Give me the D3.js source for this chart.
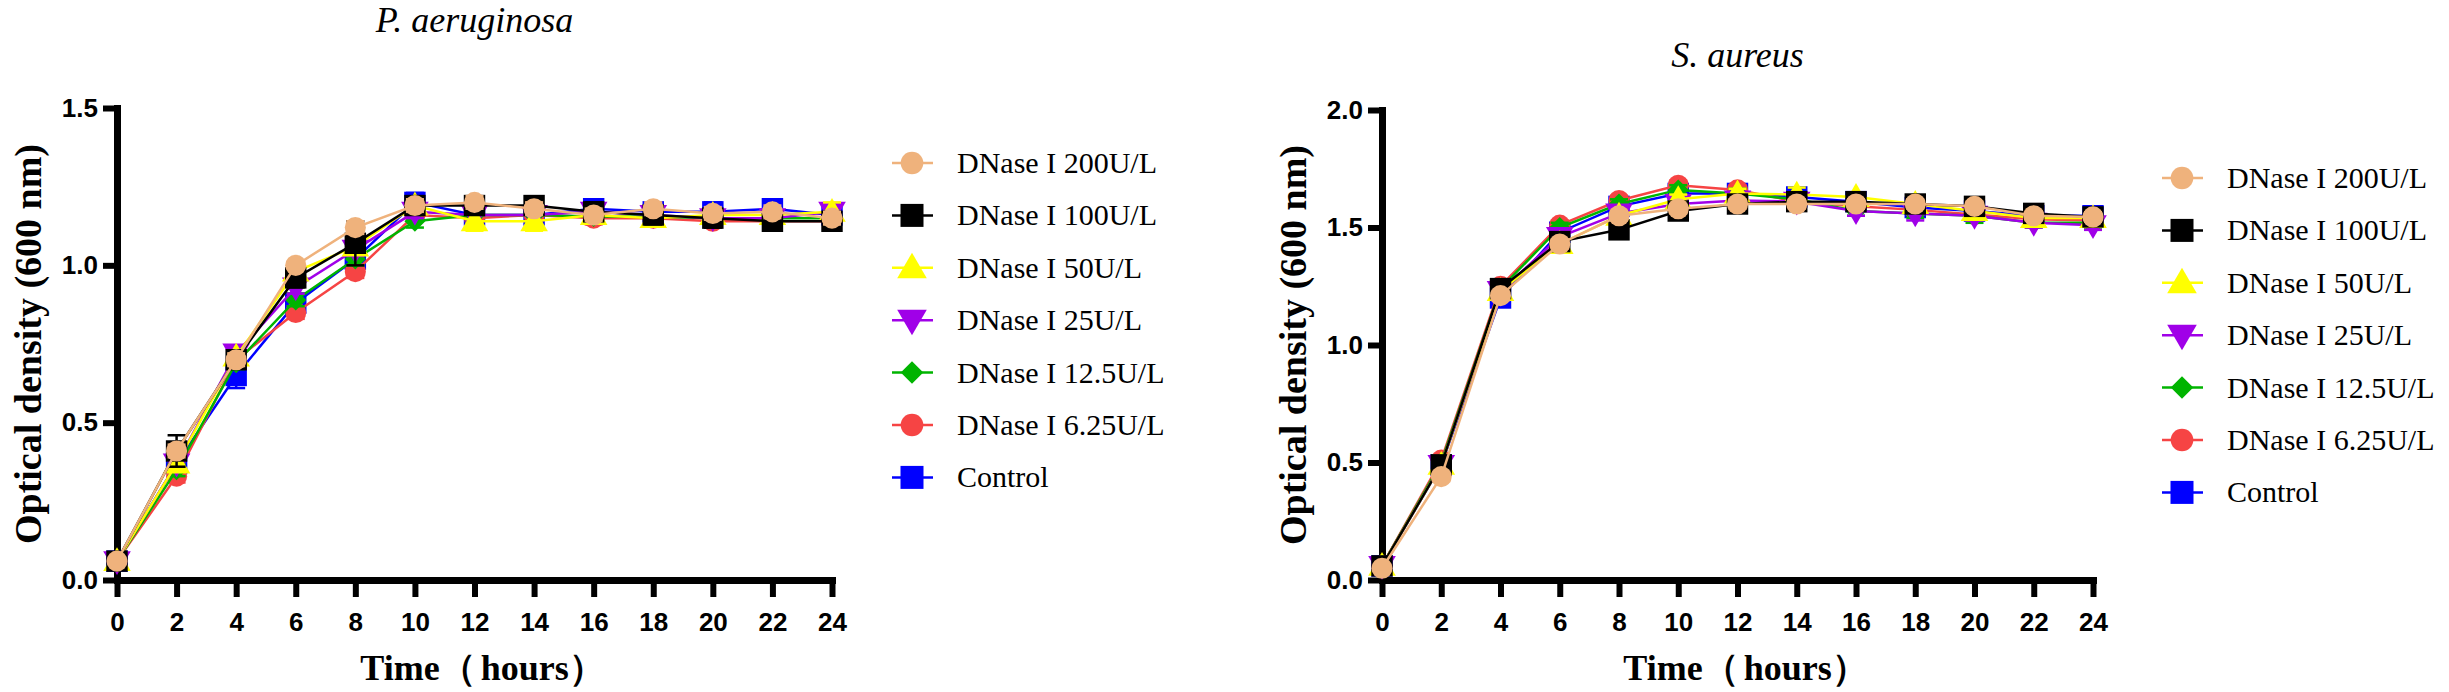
<!DOCTYPE html>
<html>
<head>
<meta charset="utf-8">
<script src="https://cdn.jsdelivr.net/npm/d3@7"></script>
<style>
  html, body { margin: 0; padding: 0; background: #fff; }
  svg { display: block; }
</style>
</head>
<body>
<div id="main"></div>
<script>
// time points (hours)
const hours = [0, 2, 4, 6, 8, 10, 12, 14, 16, 18, 20, 22, 24];
const xTicks = [0, 2, 4, 6, 8, 10, 12, 14, 16, 18, 20, 22, 24];

// legend order
const seriesNames = ['DNase I 200U/L', 'DNase I 100U/L', 'DNase I 50U/L', 'DNase I 25U/L',
  'DNase I 12.5U/L', 'DNase I 6.25U/L', 'Control'];
const seriesColors = ['#EFB27C', '#000000', '#FFFF00', '#A000E8', '#00B400', '#F64444', '#0000FF'];
const seriesShapes = ['circle', 'square', 'triangle', 'triangleDown', 'diamond', 'circle', 'square'];

// P. aeruginosa OD600
const pa200  = [0.06, 0.41, 0.70, 1.00, 1.12, 1.19, 1.20, 1.18, 1.16, 1.18, 1.165, 1.17, 1.15];
const pa100  = [0.06, 0.41, 0.70, 0.96, 1.07, 1.19, 1.19, 1.19, 1.17, 1.16, 1.15, 1.14, 1.14];
const pa50   = [0.06, 0.37, 0.71, 0.98, 1.06, 1.19, 1.14, 1.14, 1.16, 1.15, 1.16, 1.16, 1.17];
const pa25   = [0.06, 0.37, 0.72, 0.93, 1.05, 1.17, 1.16, 1.16, 1.17, 1.16, 1.15, 1.15, 1.17];
const pa12   = [0.06, 0.35, 0.69, 0.89, 1.02, 1.14, 1.16, 1.16, 1.155, 1.155, 1.15, 1.15, 1.15];
const pa6    = [0.06, 0.33, 0.70, 0.85, 0.98, 1.16, 1.15, 1.16, 1.15, 1.15, 1.14, 1.14, 1.14];
const paCtrl = [0.06, 0.37, 0.65, 0.88, 1.02, 1.20, 1.16, 1.16, 1.18, 1.17, 1.17, 1.18, 1.16];

// P. aeruginosa SD
const paErr200  = [0.01, 0.02, 0.02, 0.01, 0.02, 0.02, 0.02, 0.02, 0.02, 0.02, 0.02, 0.02, 0.02];
const paErr100  = [0.01, 0.05, 0.02, 0.03, 0.07, 0.02, 0.02, 0.02, 0.03, 0.03, 0.03, 0.03, 0.03];
const paErr50   = [0.01, 0.02, 0.02, 0.02, 0.02, 0.02, 0.03, 0.03, 0.02, 0.02, 0.02, 0.02, 0.03];
const paErr25   = [0.01, 0.02, 0.02, 0.02, 0.02, 0.02, 0.02, 0.02, 0.02, 0.02, 0.02, 0.02, 0.02];
const paErr12   = [0.01, 0.02, 0.02, 0.02, 0.02, 0.02, 0.02, 0.02, 0.02, 0.02, 0.02, 0.02, 0.02];
const paErr6    = [0.01, 0.02, 0.02, 0.02, 0.02, 0.02, 0.03, 0.02, 0.02, 0.02, 0.02, 0.02, 0.02];
const paErrCtrl = [0.01, 0.02, 0.04, 0.02, 0.02, 0.03, 0.02, 0.02, 0.03, 0.02, 0.03, 0.03, 0.03];

// S. aureus OD600
const sa200  = [0.05, 0.44, 1.21, 1.43, 1.55, 1.58, 1.60, 1.60, 1.60, 1.60, 1.59, 1.55, 1.545];
const sa100  = [0.06, 0.49, 1.24, 1.44, 1.49, 1.57, 1.60, 1.61, 1.61, 1.60, 1.59, 1.56, 1.545];
const sa50   = [0.06, 0.49, 1.23, 1.43, 1.55, 1.62, 1.645, 1.64, 1.63, 1.60, 1.57, 1.54, 1.54];
const sa25   = [0.06, 0.49, 1.23, 1.46, 1.56, 1.60, 1.615, 1.61, 1.57, 1.56, 1.55, 1.52, 1.51];
const sa12   = [0.06, 0.50, 1.24, 1.50, 1.60, 1.66, 1.645, 1.62, 1.57, 1.56, 1.55, 1.52, 1.52];
const sa6    = [0.06, 0.51, 1.25, 1.51, 1.615, 1.68, 1.66, 1.61, 1.59, 1.575, 1.555, 1.535, 1.53];
const saCtrl = [0.06, 0.49, 1.20, 1.48, 1.59, 1.645, 1.645, 1.63, 1.61, 1.585, 1.57, 1.55, 1.55];

// S. aureus SD
const saErr200  = [0.01, 0.02, 0.02, 0.02, 0.02, 0.02, 0.02, 0.02, 0.02, 0.02, 0.02, 0.02, 0.02];
const saErr100  = [0.01, 0.02, 0.02, 0.02, 0.03, 0.03, 0.03, 0.03, 0.03, 0.03, 0.03, 0.03, 0.03];
const saErr50   = [0.01, 0.02, 0.02, 0.03, 0.02, 0.02, 0.02, 0.03, 0.02, 0.02, 0.03, 0.03, 0.02];
const saErr25   = [0.01, 0.02, 0.02, 0.02, 0.02, 0.02, 0.02, 0.02, 0.02, 0.03, 0.02, 0.02, 0.02];
const saErr12   = [0.01, 0.02, 0.02, 0.02, 0.02, 0.02, 0.02, 0.02, 0.02, 0.02, 0.03, 0.02, 0.02];
const saErr6    = [0.01, 0.02, 0.02, 0.02, 0.02, 0.02, 0.02, 0.02, 0.02, 0.02, 0.02, 0.02, 0.02];
const saErrCtrl = [0.01, 0.02, 0.03, 0.02, 0.02, 0.02, 0.02, 0.02, 0.02, 0.02, 0.02, 0.02, 0.02];

const W = 2449, H = 692;
const svg = d3.select('#main').append('svg').attr('width', W).attr('height', H);

const SERIF = '"Liberation Serif", "Times New Roman", serif';
const SANS = '"Liberation Sans", Arial, sans-serif';

function symbolPath(shape, big) {
  const k = big ? 1.15 : 1;
  if (shape === 'circle') return d3.symbol(d3.symbolCircle, 350 * k)();
  if (shape === 'square') return d3.symbol(d3.symbolSquare, 460 * k)();
  if (shape === 'diamond') return d3.symbol(d3.symbolSquare, 220 * k)(); // rotated 45deg below
  return d3.symbol(d3.symbolTriangle, 330 * k)(); // triangle / triangleDown (rotated)
}
function symbolTransform(shape, x, y) {
  if (shape === 'triangle') return `translate(${x},${y + 2})`;
  if (shape === 'triangleDown') return `translate(${x},${y - 2}) rotate(180)`;
  if (shape === 'diamond') return `translate(${x},${y}) rotate(45)`;
  return `translate(${x},${y})`;
}

function drawPanel(opt) {
  const g = svg.append('g');
  const x = d3.scaleLinear().domain([0, 24]).range([opt.x0, opt.x1]);
  const y = d3.scaleLinear().domain([0, opt.yMax]).range([opt.yBottom, opt.yTop]);

  // axes
  const yAxis = g.append('g').attr('transform', `translate(${opt.x0},0)`)
    .call(d3.axisLeft(y).tickValues(opt.yTicks).tickFormat(d3.format('.1f'))
      .tickSize(14).tickSizeOuter(0).tickPadding(5));
  const xAxis = g.append('g').attr('transform', `translate(0,${opt.yBottom})`)
    .call(d3.axisBottom(x).tickValues(xTicks).tickFormat(d3.format('d'))
      .tickSize(17).tickSizeOuter(0).tickPadding(16));
  [yAxis, xAxis].forEach(a => {
    a.select('.domain').attr('stroke', '#000').attr('stroke-width', 7).attr('stroke-linecap', 'square');
    a.selectAll('.tick line').attr('stroke', '#000').attr('stroke-width', 6);
    a.selectAll('.tick text').attr('fill', '#000').attr('font-family', SANS)
      .attr('font-weight', 'bold').attr('font-size', 26);
  });

  // series, drawn from last legend entry to first
  for (let s = opt.series.length - 1; s >= 0; s--) {
    const vals = opt.series[s], errs = opt.errors[s];
    const col = seriesColors[s], shape = seriesShapes[s];
    const pts = hours.map((h, i) => ({h: h, v: vals[i], e: errs[i]}));
    const sg = g.append('g');

    const eb = sg.selectAll('g.err').data(pts).enter().append('g').attr('class', 'err')
      .attr('stroke', col).attr('stroke-width', 2.5);
    eb.append('line').attr('x1', d => x(d.h)).attr('x2', d => x(d.h))
      .attr('y1', d => y(d.v - d.e)).attr('y2', d => y(d.v + d.e));
    eb.append('line').attr('x1', d => x(d.h) - 9).attr('x2', d => x(d.h) + 9)
      .attr('y1', d => y(d.v + d.e)).attr('y2', d => y(d.v + d.e));
    eb.append('line').attr('x1', d => x(d.h) - 9).attr('x2', d => x(d.h) + 9)
      .attr('y1', d => y(d.v - d.e)).attr('y2', d => y(d.v - d.e));

    sg.append('path').datum(pts)
      .attr('fill', 'none').attr('stroke', col).attr('stroke-width', 2.5)
      .attr('d', d3.line().x(d => x(d.h)).y(d => y(d.v)));

    sg.selectAll('path.mk').data(pts).enter().append('path').attr('class', 'mk')
      .attr('d', symbolPath(shape, false)).attr('fill', col)
      .attr('transform', d => symbolTransform(shape, x(d.h), y(d.v)));
  }

  // titles
  g.append('text').attr('x', (opt.x0 + opt.x1) / 2).attr('y', opt.titleY)
    .attr('text-anchor', 'middle').attr('font-family', SERIF).attr('font-style', 'italic')
    .attr('font-size', 36).attr('fill', '#000').text(opt.title);
  g.append('text').attr('transform', `translate(${opt.x0 - 76},${(opt.yTop + opt.yBottom) / 2}) rotate(-90)`)
    .attr('text-anchor', 'middle').attr('font-family', SERIF).attr('font-weight', 'bold')
    .attr('font-size', 38).attr('fill', '#000').text('Optical density (600 nm)');
  g.append('text').attr('x', (opt.x0 + opt.x1) / 2 + 8).attr('y', 680)
    .attr('text-anchor', 'middle').attr('font-family', SERIF).attr('font-weight', 'bold')
    .attr('font-size', 36).attr('word-spacing', -4).attr('fill', '#000').text('Time（ hours）');

  // legend
  const lg = g.append('g');
  seriesNames.forEach((name, i) => {
    const ly = opt.legendY + i * 52.4;
    const lx = opt.legendX;
    lg.append('line').attr('x1', lx - 20).attr('x2', lx + 21).attr('y1', ly).attr('y2', ly)
      .attr('stroke', seriesColors[i]).attr('stroke-width', 2.5);
    lg.append('path').attr('d', symbolPath(seriesShapes[i], true)).attr('fill', seriesColors[i])
      .attr('transform', symbolTransform(seriesShapes[i], lx, ly));
    lg.append('text').attr('x', lx + 45).attr('y', ly + 10)
      .attr('font-family', SERIF).attr('font-size', 30).attr('fill', '#000').text(name);
  });
}

drawPanel({
  x0: 117, x1: 832, yTop: 108, yBottom: 580, yMax: 1.5, yTicks: [0, 0.5, 1.0, 1.5],
  title: 'P. aeruginosa', titleY: 32, legendX: 912, legendY: 163,
  series: [pa200, pa100, pa50, pa25, pa12, pa6, paCtrl],
  errors: [paErr200, paErr100, paErr50, paErr25, paErr12, paErr6, paErrCtrl]
});

drawPanel({
  x0: 1382, x1: 2093, yTop: 110, yBottom: 580, yMax: 2.0, yTicks: [0, 0.5, 1.0, 1.5, 2.0],
  title: 'S. aureus', titleY: 67, legendX: 2182, legendY: 178,
  series: [sa200, sa100, sa50, sa25, sa12, sa6, saCtrl],
  errors: [saErr200, saErr100, saErr50, saErr25, saErr12, saErr6, saErrCtrl]
});
</script>
</body>
</html>
